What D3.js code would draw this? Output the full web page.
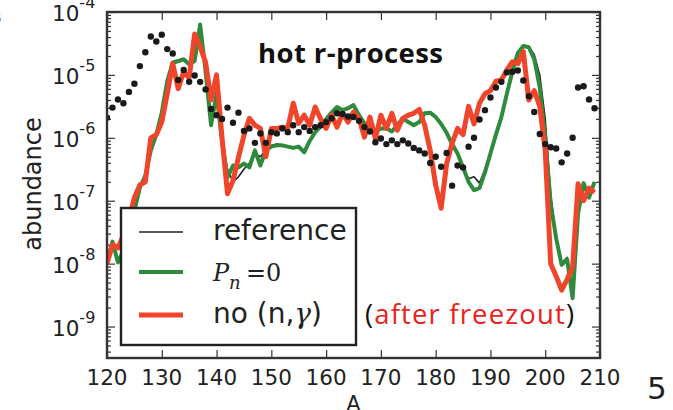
<!DOCTYPE html>
<html><head><meta charset="utf-8">
<script src="https://cdn.jsdelivr.net/npm/d3@7"></script>
<style>body{margin:0;background:#fff;} svg{display:block}</style>
</head><body><svg id="c" width="673" height="410"></svg>
<script>
// mass number of the first value in every series (one value per A)
const massStart = 120;
// solar r-process abundances (dots), log10
const solarLog = [
 -5.68,-5.52,-5.39,-5.45,-5.27,-5.14,-4.86,-4.64,-4.39,-4.47,
 -4.36,-4.59,-4.66,-5.08,-4.92,-5.11,-5.01,-5.11,-5.23,-5.54,
 -5.64,-5.70,-5.52,-5.76,-5.60,-5.89,-5.85,-6.08,-5.93,-6.08,
 -5.91,-5.93,-5.85,-5.91,-5.80,-5.91,-5.83,-5.89,-5.83,-5.80,
 -5.75,-5.69,-5.61,-5.62,-5.66,-5.67,-5.73,-5.83,-5.90,-6.07,
 -6.01,-6.10,-6.04,-6.10,-6.04,-6.09,-6.16,-6.20,-6.25,-6.40,
 -6.30,-6.46,-6.24,-6.76,-6.44,-6.47,-6.14,-6.00,-5.71,-5.56,
 -5.36,-5.20,-5.11,-4.96,-4.95,-4.93,-5.09,-5.34,-5.59,-5.94,
 -6.10,-6.15,-6.17,-6.39,-6.25,-6.00,-5.20,-5.18,-5.39,-5.53];
// "reference" calculation, log10
const referenceLog = [
 -8.00,-7.65,-7.95,-7.80,-7.50,-7.15,-6.80,-6.60,-6.20,-5.95,
 -5.60,-5.10,-4.82,-4.80,-4.76,-4.83,-4.78,-4.22,-4.95,-5.75,
 -5.35,-6.05,-6.50,-6.70,-6.62,-6.50,-6.40,-6.25,-6.30,-6.20,
 -6.12,-6.10,-6.12,-6.14,-6.15,-6.14,-6.20,-6.05,-5.92,-5.82,
 -5.70,-5.60,-5.52,-5.55,-5.54,-5.50,-5.62,-5.76,-5.82,-5.88,
 -5.85,-5.84,-5.88,-5.80,-5.70,-5.74,-5.78,-5.74,-5.62,-5.60,
 -5.66,-5.78,-5.92,-6.10,-6.25,-6.45,-6.65,-6.62,-6.72,-6.50,
 -6.22,-5.93,-5.66,-5.30,-4.95,-4.66,-4.55,-4.55,-4.68,-5.00,
 -5.70,-6.90,-7.60,-8.00,-7.90,-8.40,-7.20,-6.75,-6.90,-6.75];
// P_n = 0, log10
const pnZeroLog = [
 -8.00,-7.65,-7.98,-7.80,-7.50,-7.16,-6.79,-6.60,-6.20,-5.95,
 -5.60,-5.10,-4.80,-4.78,-4.75,-4.83,-4.78,-4.20,-4.95,-5.80,
 -5.30,-6.05,-6.63,-6.44,-6.47,-6.41,-6.47,-6.20,-6.44,-6.20,
 -6.14,-6.12,-6.12,-6.14,-6.16,-6.14,-6.23,-6.05,-5.91,-5.82,
 -5.70,-5.60,-5.51,-5.56,-5.53,-5.48,-5.64,-5.77,-5.83,-5.90,
 -5.85,-5.85,-5.90,-5.80,-5.69,-5.75,-5.80,-5.75,-5.61,-5.60,
 -5.67,-5.78,-5.92,-6.10,-6.25,-6.47,-6.70,-6.83,-6.80,-6.55,
 -6.25,-5.95,-5.67,-5.30,-4.95,-4.65,-4.54,-4.56,-4.75,-5.20,
 -6.00,-7.05,-7.60,-8.02,-7.93,-8.55,-7.20,-6.72,-6.95,-6.70];
// no (n,gamma), log10
const noNGammaLog = [
 -8.00,-7.70,-7.75,-7.55,-7.30,-6.95,-6.75,-6.70,-6.00,-5.95,
 -5.75,-5.30,-4.82,-5.22,-4.95,-5.05,-4.35,-4.55,-4.80,-5.40,
 -5.00,-6.00,-6.89,-6.68,-6.31,-5.96,-5.69,-5.80,-5.85,-6.30,
 -5.85,-5.85,-5.83,-5.85,-5.45,-5.77,-5.64,-5.80,-5.51,-5.70,
 -5.85,-5.64,-5.83,-5.61,-5.75,-5.59,-5.69,-5.99,-5.67,-6.01,
 -5.64,-5.85,-5.61,-5.88,-5.69,-5.64,-5.61,-5.55,-5.80,-6.20,
 -6.75,-7.12,-6.41,-6.09,-5.85,-5.95,-5.50,-5.78,-5.45,-5.30,
 -5.25,-5.10,-5.08,-4.92,-4.79,-4.82,-4.63,-5.40,-5.25,-5.50,
 -6.20,-8.00,-8.20,-8.42,-8.25,-8.05,-6.73,-7.00,-6.80,-6.87];
const xTickValues = [120,130,140,150,160,170,180,190,200,210];
const yTickExponents = [-9,-8,-7,-6,-5,-4];
const yDomainExponents = [-9.5,-4];
const seriesNames = ["reference", "Pn=0", "no (n,γ)"];
const seriesColors = ["#222222", "#2e8b3c", "#f0452a"];
const seriesWidths = [1.6, 4, 5];

const svg = d3.select("#c");
const L = 107, R = 600, T = 12, B = 358;
const x = d3.scaleLinear().domain([120, 210]).range([L, R]);
const y = d3.scaleLog().domain(yDomainExponents.map(e => Math.pow(10, e))).range([B, T]);
const toPts = arr => arr.map((v, i) => [massStart + i, Math.pow(10, v)]);

svg.append("defs").append("clipPath").attr("id", "clip")
  .append("rect").attr("x", L).attr("y", T).attr("width", R - L).attr("height", B - T);

// minor ticks for log axis
const minor = [];
for (let e = -10; e < -4; e++) for (let m = 2; m <= 9; m++) {
  const v = m * Math.pow(10, e);
  if (v >= y.domain()[0] && v <= y.domain()[1]) minor.push(v);
}
const majors = yTickExponents.map(e => Math.pow(10, e));

function styleAxis(g) {
  g.select(".domain").remove();
  g.selectAll("line").attr("stroke", "#333").attr("stroke-width", 1.2);
  g.selectAll("text").remove();
}
svg.append("g").attr("transform", `translate(0,${B})`).call(d3.axisBottom(x).tickValues(xTickValues).tickSize(-8)).call(styleAxis);
svg.append("g").attr("transform", `translate(0,${T})`).call(d3.axisTop(x).tickValues(xTickValues).tickSize(-8)).call(styleAxis);
svg.append("g").attr("transform", `translate(${L},0)`).call(d3.axisLeft(y).tickValues(majors).tickSize(-8)).call(styleAxis);
svg.append("g").attr("transform", `translate(${L},0)`).call(d3.axisLeft(y).tickValues(minor).tickSize(-4)).call(styleAxis);
svg.append("g").attr("transform", `translate(${R},0)`).call(d3.axisRight(y).tickValues(majors).tickSize(-8)).call(styleAxis);
svg.append("g").attr("transform", `translate(${R},0)`).call(d3.axisRight(y).tickValues(minor).tickSize(-4)).call(styleAxis);

// tick labels
svg.append("g").selectAll("text").data(xTickValues).join("text")
  .attr("x", d => x(d)).attr("y", B + 27).attr("text-anchor", "middle")
  .attr("font-family", "DejaVu Sans").attr("font-size", 21.5).attr("fill", "#222").text(d => d);
const yl = svg.append("g").selectAll("text").data(yTickExponents).join("text")
  .attr("x", 52).attr("y", d => y(Math.pow(10, d)) + 9)
  .attr("font-family", "DejaVu Sans").attr("font-size", 21.5).attr("fill", "#222");
yl.append("tspan").text("10");
yl.append("tspan").attr("dy", -13).attr("font-size", 16).text(d => d);

// axis labels
svg.append("text").attr("transform", "translate(41,184) rotate(-90)").attr("text-anchor", "middle")
  .attr("font-family", "DejaVu Sans").attr("font-size", 24).attr("fill", "#222").text("abundance");
svg.append("text").attr("x", x(165)).attr("y", 411).attr("text-anchor", "middle")
  .attr("font-family", "DejaVu Sans").attr("font-size", 21).attr("fill", "#222").text("A");

// data
const plot = svg.append("g").attr("clip-path", "url(#clip)");
const line = d3.line().x(d => x(d[0])).y(d => y(d[1]));
[referenceLog, pnZeroLog, noNGammaLog].forEach((s, i) => {
  plot.append("path").datum(toPts(s)).attr("d", line).attr("fill", "none")
    .attr("stroke", seriesColors[i]).attr("stroke-width", seriesWidths[i]).attr("stroke-linejoin", "round");
});
plot.append("g").selectAll("circle").data(toPts(solarLog)).join("circle")
  .attr("cx", d => x(d[0])).attr("cy", d => y(d[1])).attr("r", 3.2).attr("fill", "#1a1a1a");

// frame
svg.append("rect").attr("x", L).attr("y", T).attr("width", R - L).attr("height", B - T)
  .attr("fill", "none").attr("stroke", "#333").attr("stroke-width", 2.4);

// title and note
svg.append("text").attr("x", 258).attr("y", 63).attr("font-family", "Open Sans").attr("font-weight", "bold")
  .attr("font-size", 27.5).attr("fill", "#111").attr("textLength", 185).attr("lengthAdjust", "spacing").text("hot r-process");
const note = svg.append("text").attr("x", 365).attr("y", 324).attr("font-family", "Open Sans").attr("font-size", 27.5)
  .attr("textLength", 209).attr("lengthAdjust", "spacing");
note.append("tspan").attr("fill", "#111").text("(");
note.append("tspan").attr("fill", "#e8221c").text("after freezout");
note.append("tspan").attr("fill", "#111").text(")");

// legend
const lg = svg.append("g");
lg.append("rect").attr("x", 121).attr("y", 208).attr("width", 235).attr("height", 137)
  .attr("fill", "#fff").attr("stroke", "#222").attr("stroke-width", 2.4);
const rowY = [232, 272, 315];
rowY.forEach((ry, i) => {
  lg.append("line").attr("x1", 139).attr("x2", 183).attr("y1", ry).attr("y2", ry)
    .attr("stroke", seriesColors[i]).attr("stroke-width", seriesWidths[i]);
});
lg.append("text").attr("x", 213).attr("y", 240).attr("font-family", "DejaVu Sans").attr("font-size", 28)
  .attr("fill", "#222").text(seriesNames[0]);
const t2 = lg.append("text").attr("y", 281).attr("font-family", "DejaVu Serif").attr("font-size", 24).attr("fill", "#222");
t2.append("tspan").attr("x", 213).attr("font-style", "italic").text("P");
t2.append("tspan").attr("x", 229).attr("font-style", "italic").attr("font-size", 18).attr("dy", 8).text("n");
t2.append("tspan").attr("x", 246).attr("dy", -8).text("=0");
const t3 = lg.append("text").attr("x", 213).attr("y", 323).attr("font-family", "DejaVu Sans").attr("font-size", 28).attr("fill", "#222");
t3.append("tspan").text("no (n,");
t3.append("tspan").attr("font-family", "DejaVu Serif").attr("font-style", "italic").text("γ");
t3.append("tspan").text(")");

// page number
svg.append("text").attr("x", 647).attr("y", 399).attr("font-family", "DejaVu Sans").attr("font-size", 31)
  .attr("fill", "#222").text("5");
// clipped fragments at left edge
svg.append("text").attr("x", -7).attr("y", 22).attr("font-family", "DejaVu Sans").attr("font-size", 16).attr("fill", "#555").text("s");
svg.append("text").attr("x", -7).attr("y", 72).attr("font-family", "DejaVu Sans").attr("font-size", 16).attr("fill", "#555").text("r");
</script></body></html>
